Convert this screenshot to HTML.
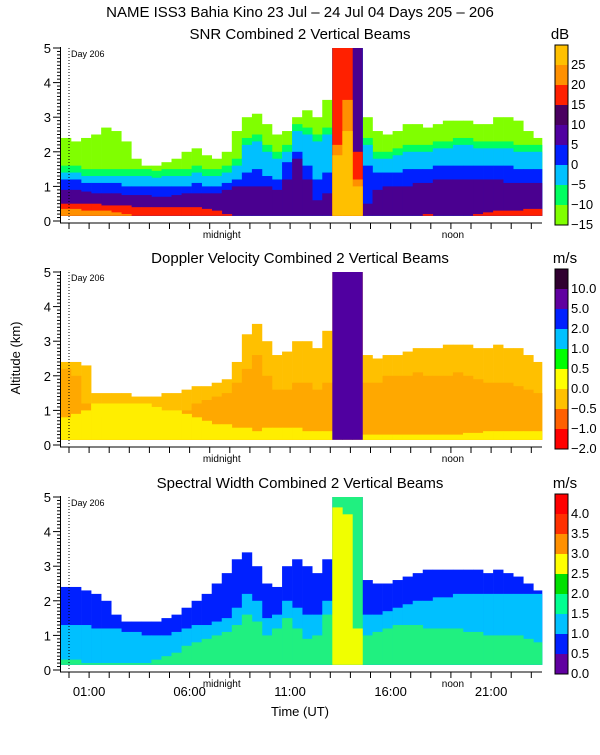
<!DOCTYPE html>
<html><head><meta charset="utf-8"><style>
html,body{margin:0;padding:0;background:#fff;}
svg text{font-family:"Liberation Sans",sans-serif;fill:#000;}
</style></head><body>
<svg id="chart" width="600" height="750" xmlns="http://www.w3.org/2000/svg">
<text x="300" y="17" font-size="15" text-anchor="middle">NAME ISS3 Bahia Kino  23 Jul – 24 Jul 04 Days 205 – 206</text>
<text x="300" y="39" font-size="15" text-anchor="middle">SNR Combined 2 Vertical Beams</text>
<text x="300" y="263" font-size="15" text-anchor="middle">Doppler Velocity Combined 2 Vertical Beams</text>
<text x="300" y="488" font-size="15" text-anchor="middle">Spectral Width Combined 2 Vertical Beams</text>
<text x="560" y="39" font-size="15" text-anchor="middle">dB</text>
<text x="565" y="263" font-size="15" text-anchor="middle">m/s</text>
<text x="565" y="488" font-size="15" text-anchor="middle">m/s</text>
<text transform="translate(20,358) rotate(-90)" font-size="13" text-anchor="middle">Altitude (km)</text>
<text x="300" y="716" font-size="13" text-anchor="middle">Time (UT)</text>
</svg>
<script>
// ---- data (48 half-hour columns starting at -0.4 h UT) ----
const colStart = -0.4;
const colWidthH = 0.5;
// SNR layer tops (km)
const snrGreenTop = [2.4,2.3,2.4,2.5,2.7,2.6,2.3,1.8,1.6,1.6,1.7,1.8,2.0,2.1,1.9,1.8,2.0,2.6,3.0,3.1,2.8,2.5,2.6,3.0,3.2,3.0,3.5,5,5,5,3.0,2.6,2.5,2.6,2.8,2.8,2.7,2.8,2.9,2.9,2.9,2.8,2.8,3.0,3.0,2.9,2.6,2.4];
const snrLtBlueTop = [1.4,1.4,1.3,1.3,1.3,1.3,1.3,1.3,1.3,1.25,1.3,1.3,1.3,1.4,1.3,1.3,1.4,1.6,2.2,2.3,2.0,1.8,2.0,2.6,2.5,2.3,2.5,5,5,5,2.2,1.8,1.8,1.9,2.0,2.0,2.0,2.1,2.1,2.2,2.2,2.1,2.1,2.1,2.1,2.0,2.0,2.0];
const snrBlueTop = [1.2,1.2,1.1,1.1,1.1,1.1,1.0,1.0,1.0,1.0,1.0,1.0,1.0,1.1,1.0,1.0,1.1,1.2,1.4,1.5,1.3,1.2,1.7,2.0,1.6,1.2,1.4,5,5,5,1.6,1.4,1.4,1.4,1.5,1.5,1.5,1.6,1.6,1.6,1.6,1.6,1.6,1.6,1.6,1.5,1.5,1.5];
const snrPurpleTop = [0.9,0.9,0.85,0.8,0.8,0.8,0.75,0.75,0.75,0.7,0.7,0.75,0.8,0.8,0.8,0.8,0.9,1.0,1.0,1.0,1.0,0.9,1.2,1.8,1.2,0.6,0.8,5,5,5,0.5,0.9,1.0,1.0,1.0,1.1,1.1,1.2,1.2,1.2,1.2,1.2,1.2,1.2,1.1,1.1,1.1,1.1];
const snrRedTop = [0.5,0.5,0.5,0.5,0.45,0.45,0.45,0.4,0.4,0.4,0.4,0.4,0.4,0.4,0.35,0.3,0.2,0,0,0,0,0,0,0,0,0,0,5,5,2.0,0,0,0,0,0,0,0.2,0,0,0,0,0.2,0.25,0.3,0.3,0.3,0.35,0.35];
const snrOrangeTop = [0.35,0.35,0.3,0.3,0.3,0.25,0.2,0,0,0,0,0,0,0,0,0,0,0,0,0,0,0,0,0,0,0,0,2.2,3.5,1.2,0,0,0,0,0,0,0,0,0,0,0,0,0,0,0,0,0,0];
const snrYellowTop = [0,0,0,0,0,0,0,0,0,0,0,0,0,0,0,0,0,0,0,0,0,0,0,0,0,0,0,1.9,2.6,1.0,0,0,0,0,0,0,0,0,0,0,0,0,0,0,0,0,0,0];
// Doppler velocity layer tops (km)
const dopTop = [2.4,2.4,2.3,1.5,1.5,1.5,1.5,1.4,1.4,1.4,1.5,1.5,1.6,1.7,1.7,1.8,1.9,2.4,3.2,3.5,3.0,2.6,2.7,3.0,3.0,2.8,3.3,5,5,5,2.6,2.5,2.6,2.6,2.7,2.8,2.8,2.8,2.9,2.9,2.9,2.8,2.8,2.9,2.8,2.8,2.6,2.4];
const dopOrangeRedTop = [2.2,2.0,1.2,0.8,0.8,0.6,0.5,0.5,0.4,0.5,0.6,0.8,1.0,1.2,1.3,1.4,1.5,1.8,2.2,2.6,2.0,1.6,1.6,1.8,1.8,1.6,1.8,0,0,0,1.8,1.8,2.0,2.0,2.0,2.1,2.0,2.0,2.0,2.1,2.0,1.9,1.8,1.8,1.8,1.7,1.6,1.5];
const dopYellowTop = [0.8,0.9,1.0,1.2,1.2,1.2,1.2,1.2,1.2,1.1,1.0,1.0,0.9,0.8,0.7,0.6,0.6,0.5,0.5,0.4,0.5,0.5,0.5,0.5,0.4,0.4,0.4,0,0,0,0.3,0.3,0.3,0.3,0.3,0.3,0.3,0.3,0.3,0.3,0.35,0.35,0.4,0.4,0.4,0.4,0.4,0.4];
const dopRainTop = [0,0,0,0,0,0,0,0,0,0,0,0,0,0,0,0,0,0,0,0,0,0,0,0,0,0,0,5,5,5,0,0,0,0,0,0,0,0,0,0,0,0,0,0,0,0,0,0];
// Spectral width layer tops (km)
const swTop = [2.4,2.4,2.3,2.2,2.0,1.6,1.4,1.4,1.4,1.4,1.5,1.6,1.8,2.0,2.2,2.5,2.8,3.2,3.4,3.0,2.5,2.4,3.0,3.2,3.0,2.8,3.2,5,5,5,2.6,2.5,2.5,2.6,2.7,2.8,2.9,2.9,2.9,2.9,2.9,2.9,2.8,2.9,2.8,2.7,2.5,2.3];
const swLtBlueTop = [1.3,1.3,1.3,1.2,1.2,1.2,1.1,1.1,1.0,1.0,1.0,1.1,1.2,1.3,1.3,1.4,1.5,1.8,2.2,2.0,1.5,1.6,2.0,1.8,1.6,1.6,2.0,0,0,0,1.6,1.6,1.7,1.8,1.9,2.0,2.0,2.1,2.1,2.2,2.2,2.2,2.2,2.2,2.2,2.2,2.2,2.2];
const swGreenTop = [0.3,0.3,0.2,0.2,0.2,0.2,0.2,0.2,0.2,0.3,0.4,0.5,0.7,0.8,0.9,1.0,1.1,1.3,1.6,1.4,1.0,1.2,1.5,1.2,0.9,1.0,1.6,5,5,5,1.0,1.1,1.2,1.3,1.3,1.3,1.2,1.2,1.2,1.2,1.1,1.1,1.0,1.0,1.0,1.0,0.9,0.8];
const swYellowTop = [0,0,0,0,0,0,0,0,0,0,0,0,0,0,0,0,0,0,0,0,0,0,0,0,0,0,0,4.7,4.5,1.2,0,0,0,0,0,0,0,0,0,0,0,0,0,0,0,0,0,0];
const swOrangeTop = [0,0,0,0,0,0,0,0,0,0,0,0,0,0,0,0,0,0,0,0,0,0,0,0,0,0,0,0,0,0,0,0,0,0,0,0,0,0,0,0,0,0,0,0,0,0,0,0];
// colorbar labels
const snrLabels = ["25","20","15","10","5","0","−5","−10","−15"];
const dopLabels = ["10.0","5.0","2.0","1.0","0.5","0.0","−0.5","−1.0","−2.0"];
const swLabels = ["4.0","3.5","3.0","2.5","2.0","1.5","1.0","0.5","0.0"];
const timeLabels = ["01:00","06:00","11:00","16:00","21:00"];
const timeLabelHours = [1,6,11,16,21];
const yTickLabels = ["0","1","2","3","4","5"];

const svg = document.getElementById('chart');
const NS = 'http://www.w3.org/2000/svg';
function mk(tag, attrs){const e=document.createElementNS(NS,tag);for(const k in attrs)e.setAttribute(k,attrs[k]);svg.appendChild(e);return e;}
const X0=61, X1=542;
function xs(h){return 69+20.1*h;}
function ysFactory(y0){return function(km){return y0-km*34.6;};}

const panels=[
 {name:'snr',y0:221,bar:['#ffc000','#ff9000','#ff2000','#4a0060','#5000a0','#0020ff','#00c0ff','#00ff60','#80ff00'],labels:snrLabels,
  layers:[[snrGreenTop,'#80ff00'],[snrLtBlueTop,'#00ff60',0.2],[snrLtBlueTop,'#00c0ff'],[snrBlueTop,'#0020ff'],[snrPurpleTop,'#4a0090'],[snrRedTop,'#ff2000'],[snrOrangeTop,'#ff9000'],[snrYellowTop,'#ffc000']]},
 {name:'doppler',y0:445,bar:['#300030','#6000a0','#0020ff','#00c0ff','#00ff00','#ffff00','#ffc000','#ff6000','#ff0000'],labels:dopLabels,
  layers:[[dopTop,'#ffc000'],[dopOrangeRedTop,'#ffa800'],[dopYellowTop,'#ffee00'],[dopRainTop,'#5000a0']]},
 {name:'width',y0:670,bar:['#ff0000','#ff3000','#ff9000','#ffff00','#00e000','#00ff90','#00c0ff','#0020ff','#6000a0'],labels:swLabels,
  layers:[[swTop,'#0020ff'],[swLtBlueTop,'#00c0ff'],[swGreenTop,'#20f080'],[swYellowTop,'#f0ff00'],[swOrangeTop,'#ff9000']]}
];
const base=0.15;
panels.forEach(p=>{
  const ys=ysFactory(p.y0);
  p.layers.forEach(L=>{
    const arr=L[0], col=L[1], add=L[2]||0;
    arr.forEach((v,i)=>{
      if(v<=0) return;
      const top=Math.min(5,v+add);
      if(top<=base) return;
      const xa=Math.max(X0,xs(colStart+i*colWidthH)), xb=Math.min(X1,xs(colStart+(i+1)*colWidthH));
      const r=mk('rect',{x:xa,y:ys(top),width:xb-xa+0.3,height:ys(base)-ys(top),fill:col});
      
      
    });
  });
  const dl=mk('line',{x1:xs(0),x2:xs(0),y1:ys(5),y2:p.y0,stroke:'#000','stroke-dasharray':'1,2','stroke-width':1});
  
  
  const dt=mk('text',{x:xs(0)+2,y:ys(5)+9,'font-size':9});
  dt.textContent='Day 206';
  
  
  const ax=mk('path',{d:`M${X0-0.5},${ys(5)-1} V${p.y0+2} H${X1}`,stroke:'#000',fill:'none','stroke-width':1});
  
  
  for(let k=0;k<=50;k++){
    const y=ys(k/10), major=k%10===0;
    const t=mk('line',{x1:X0-(major?8:4),x2:X0,y1:y,y2:y,stroke:'#000','stroke-width':1});
    
    
  }
  yTickLabels.forEach((lab,k)=>{
    const t=mk('text',{x:X0-10,y:ys(k)+5,'font-size':13,'text-anchor':'end'});
    t.textContent=lab;
    
    
  });
  for(let h=0;h<=23;h++){
    const x=xs(h);
    const t=mk('line',{x1:x,x2:x,y1:p.y0+2,y2:p.y0+8,stroke:'#000','stroke-width':1});
    
    
  }
  [['midnight',7.6],['noon',19.1]].forEach(m=>{
    const t=mk('text',{x:xs(m[1]),y:p.y0+17,'font-size':10,'text-anchor':'middle'});
    t.textContent=m[0];
    
    
  });
  const bt=p.y0-176, bh=180/9;
  p.bar.forEach((c,i)=>{
    const r=mk('rect',{x:555,y:bt+i*bh,width:13,height:bh,fill:c});
    
    
    const t=mk('text',{x:571,y:bt+(i+1)*bh+4,'font-size':13});
    t.textContent=p.labels[i];
    
    
  });
  const bo=mk('rect',{x:555,y:bt,width:13,height:180,fill:'none',stroke:'#000'});
  
  
});
timeLabels.forEach((lab,i)=>{
  const t=mk('text',{x:xs(timeLabelHours[i]),y:696,'font-size':13,'text-anchor':'middle'});
  t.textContent=lab;
  
  
});
</script>
</body></html>
